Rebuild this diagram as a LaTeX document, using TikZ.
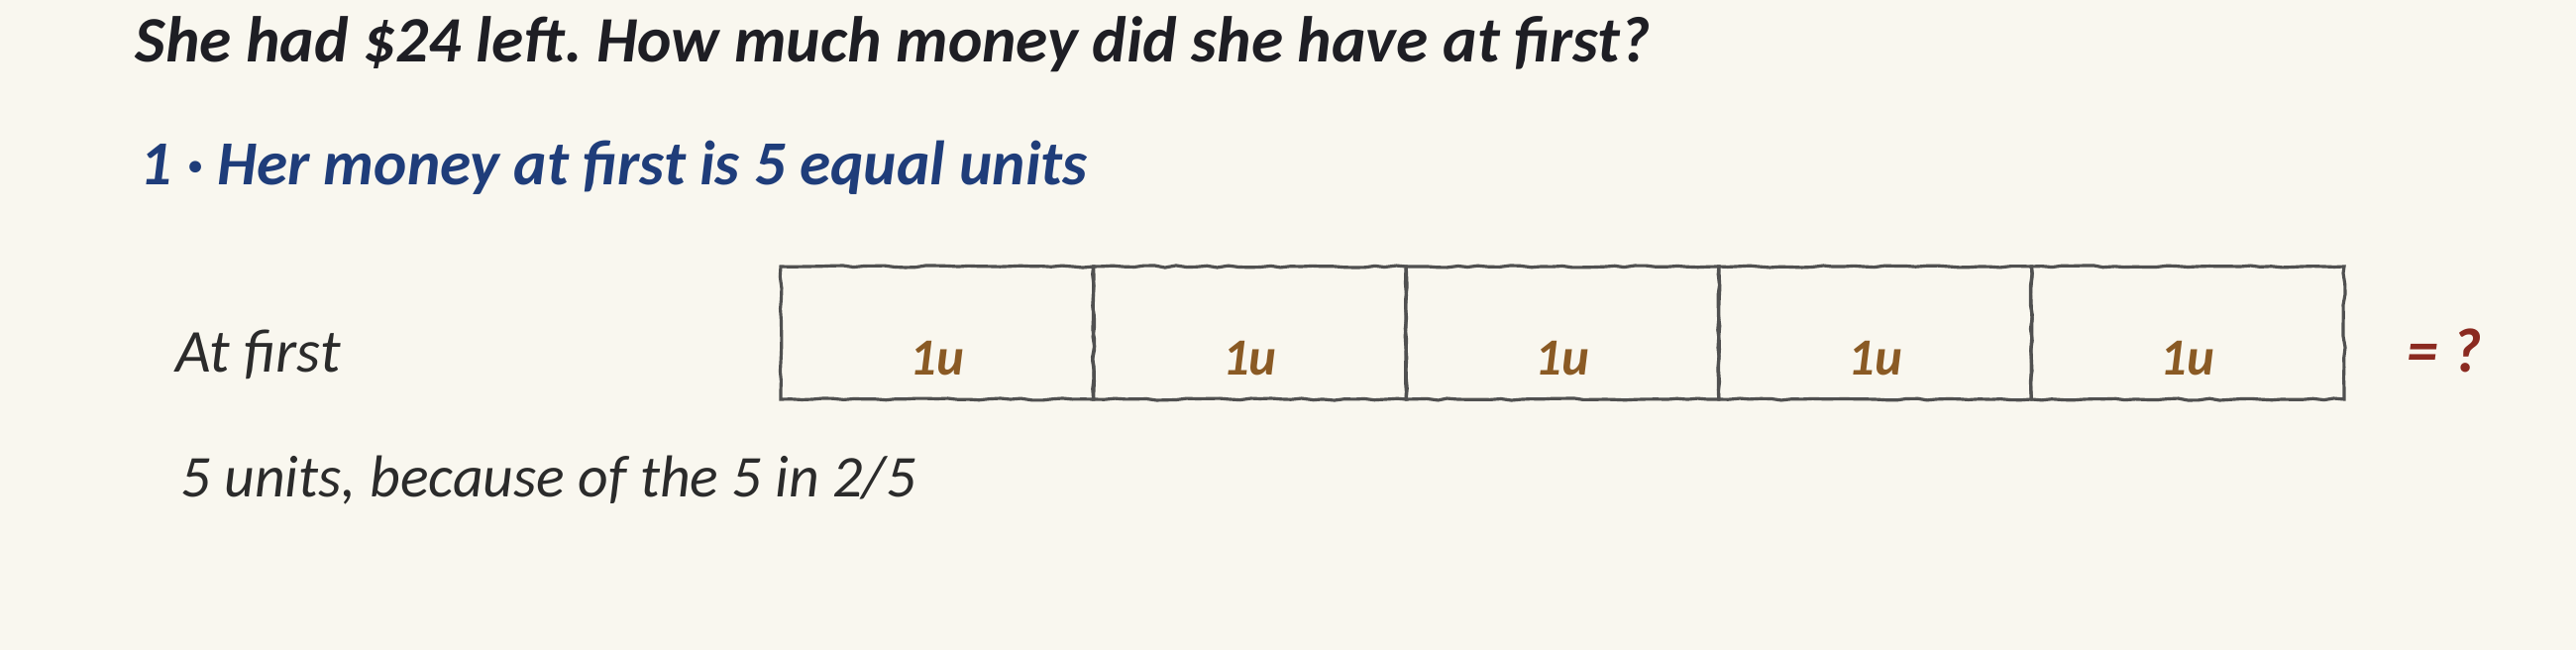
\documentclass[tikz,border=0pt]{standalone}
\usepackage{fontspec}
\setmainfont{Carlito}
\usetikzlibrary{decorations.pathmorphing}
\frenchspacing

\definecolor{paper}{HTML}{F9F7EF}
\definecolor{inkblack}{HTML}{1E1E24}
\definecolor{inkblue}{HTML}{1F3D7A}
\definecolor{inkbody}{HTML}{2B2B2B}
\definecolor{inkbrown}{HTML}{8A5A24}
\definecolor{inkred}{HTML}{8B2A20}
\definecolor{pencil}{HTML}{505050}

\tikzset{
  title/.style={anchor=base west, inner sep=0pt, text=inkblack, font=\fontsize{18.6}{22}\selectfont\bfseries\itshape},
  heading/.style={anchor=base west, inner sep=0pt, text=inkblue, font=\fontsize{18}{22}\selectfont\bfseries\itshape},
  body/.style={anchor=base west, inner sep=0pt, text=inkbody, font=\fontsize{17}{21}\selectfont\itshape},
  unitbox/.style={draw=pencil, line width=0.9pt, minimum width=3.156cm, minimum height=1.34cm, inner sep=0pt,
    decorate, decoration={random steps, segment length=3pt, amplitude=0.3pt}},
  unitlbl/.style={inner sep=0pt, text=inkbrown, font=\fontsize{15}{18}\selectfont\bfseries\itshape},
}

\begin{document}
\pgfmathsetseed{7}
\begin{tikzpicture}
\fill [paper] (0,0) rectangle (26,6.56);
\useasboundingbox (0,0) rectangle (26,6.56);
%% question;
\node [title] (q) at (1.36,5.93) {She had \$24 left. How much money did she have at first?};
%% step;
\node [heading] (s1) at (1.41,4.69) {1 · Her money at first is 5 equal units};
%% bar;
\node [body, font=\fontsize{17.5}{21}\selectfont\itshape] (row) at (1.77,2.80) {At first};
\node [unitbox] (u1) at (9.458,3.20) {};
\node [unitbox] (u2) at (12.614,3.20) {};
\node [unitbox] (u3) at (15.770,3.20) {};
\node [unitbox] (u4) at (18.926,3.20) {};
\node [unitbox] (u5) at (22.082,3.20) {};
%% labels;
\node [unitlbl, yshift=-0.26cm] (l1) at (u1) {1u};
\node [unitlbl, yshift=-0.26cm] (l2) at (u2) {1u};
\node [unitlbl, yshift=-0.26cm] (l3) at (u3) {1u};
\node [unitlbl, yshift=-0.26cm] (l4) at (u4) {1u};
\node [unitlbl, yshift=-0.26cm] (l5) at (u5) {1u};
\node [unitlbl, text=inkred, anchor=base west, font=\fontsize{18}{22}\selectfont\bfseries\itshape] (ans) at (24.29,2.80) {= ?};
%% note;
\node [body] (why) at (1.82,1.54) {5 units, because of the 5 in 2/5};
\end{tikzpicture}
\end{document}
